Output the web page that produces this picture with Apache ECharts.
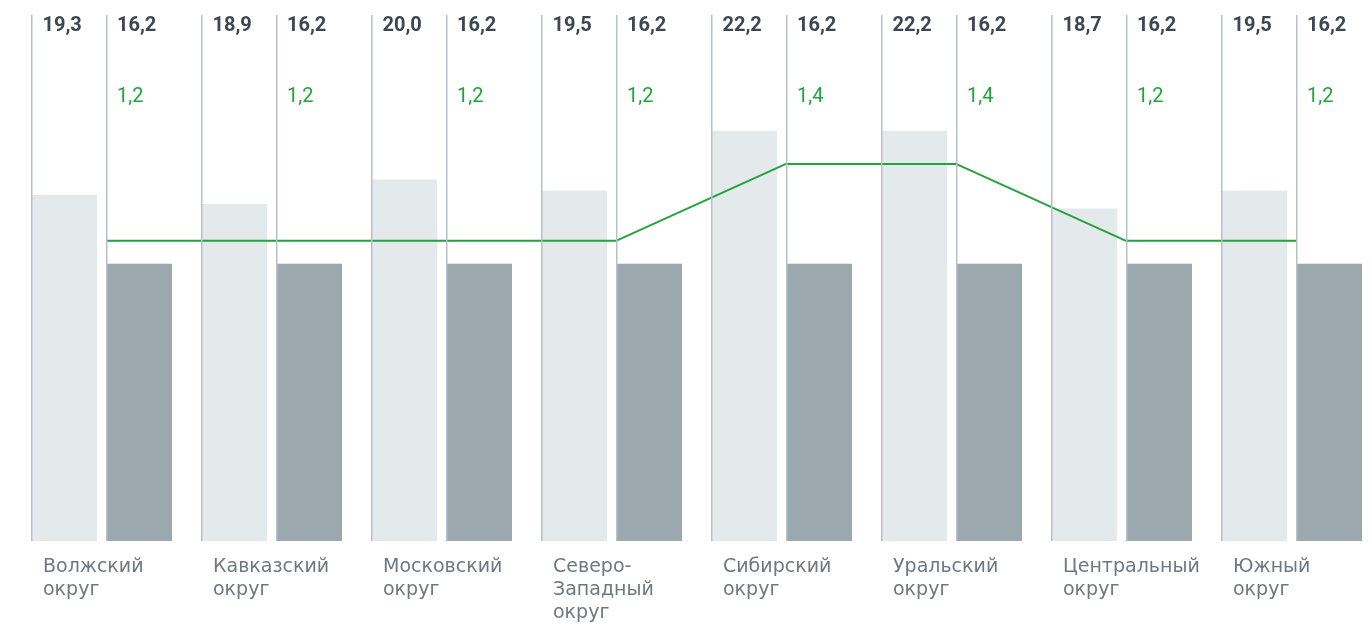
<!DOCTYPE html>
<html>
<head>
<meta charset="utf-8">
<script src="https://cdn.jsdelivr.net/npm/echarts@6/dist/echarts.min.js"></script>
<style>
html,body{margin:0;padding:0;background:#fff;}
#chart{width:1371px;height:626px;}
</style>
</head>
<body>
<div id="chart"></div>
<script>
const categories = ['Волжский\nокруг', 'Кавказский\nокруг', 'Московский\nокруг', 'Северо-\nЗападный\nокруг', 'Сибирский\nокруг', 'Уральский\nокруг', 'Центральный\nокруг', 'Южный\nокруг'];
const regional = [19.3, 18.9, 20.0, 19.5, 22.2, 22.2, 18.7, 19.5];
const national = [16.2, 16.2, 16.2, 16.2, 16.2, 16.2, 16.2, 16.2];
const ratio = [1.2, 1.2, 1.2, 1.2, 1.4, 1.4, 1.2, 1.2];

const fmt = v => v.toFixed(1).replace('.', ',');
const chart = echarts.init(document.getElementById('chart'), null, {renderer: 'canvas'});

const customData = categories.map((c, i) => [i, regional[i], national[i], ratio[i]]);

chart.setOption({
  animation: false,
  grid: [
    {left: 16.5, width: 1360, top: 0, bottom: 85, outerBoundsMode: 'none', containLabel: false},
    {left: 21, width: 1360, top: 0, bottom: 85, outerBoundsMode: 'none', containLabel: false},
    {left: -42, width: 1360, top: 0, bottom: 85, outerBoundsMode: 'none', containLabel: false}
  ],
  xAxis: [
    {type: 'category', gridIndex: 0, data: categories, show: false},
    {type: 'category', gridIndex: 1, data: categories, show: false},
    {type: 'category', gridIndex: 2, data: categories,
      axisLine: {show: false}, axisTick: {show: false}, splitLine: {show: false},
      axisLabel: {interval: 0, hideOverlap: false, align: 'left', verticalAlign: 'top', margin: 15, color: '#6e7882',
        fontFamily: 'DejaVu Sans', fontSize: 19, lineHeight: 23}}
  ],
  yAxis: [
    {type: 'value', gridIndex: 0, min: 3.7, max: 28.1, show: false},
    {type: 'value', gridIndex: 1, min: 0.42, max: 1.826, show: false},
    {type: 'value', gridIndex: 2, min: 0, max: 1, show: false}
  ],
  series: [
    {type: 'bar', xAxisIndex: 0, yAxisIndex: 0, data: regional, barWidth: 66, barGap: '13.64%',
      itemStyle: {color: '#e4e9ec'}},
    {type: 'bar', xAxisIndex: 0, yAxisIndex: 0, data: national, barWidth: 66, barGap: '13.64%',
      itemStyle: {color: '#9ba9af'}},
    {type: 'custom', xAxisIndex: 1, yAxisIndex: 1, data: customData, z: 5,
      renderItem: function (params, api) {
        const i = api.value(0);
        const cx = api.coord([i, 1.2])[0];
        const base = api.coord([i, 0.42])[1];
        const lx = cx - 75;
        const lineColor = '#b5c0c9';
        return {
          type: 'group',
          children: [
            {type: 'rect', shape: {x: lx, y: 15, width: 1.5, height: base - 15}, style: {fill: lineColor}},
            {type: 'rect', shape: {x: cx, y: 15, width: 1.5, height: base - 15}, style: {fill: lineColor}},
            {type: 'text', style: {text: fmt(api.value(1)), x: lx + 11.5, y: 26, fill: '#3d4653',
              fontFamily: 'Roboto', fontWeight: 'bold', fontSize: 20, verticalAlign: 'middle', align: 'left'}},
            {type: 'text', style: {text: fmt(api.value(2)), x: cx + 11, y: 26, fill: '#3d4653',
              fontFamily: 'Roboto', fontWeight: 'bold', fontSize: 20, verticalAlign: 'middle', align: 'left'}},
            {type: 'text', style: {text: fmt(api.value(3)), x: cx + 11, y: 97, fill: '#1ea538',
              fontFamily: 'Roboto', fontSize: 20, verticalAlign: 'middle', align: 'left'}}
          ]
        };
      }},
    {type: 'line', xAxisIndex: 1, yAxisIndex: 1, data: ratio, symbol: 'none', z: 4,
      lineStyle: {color: '#22a33b', width: 2}}
  ]
});
</script>
</body>
</html>
